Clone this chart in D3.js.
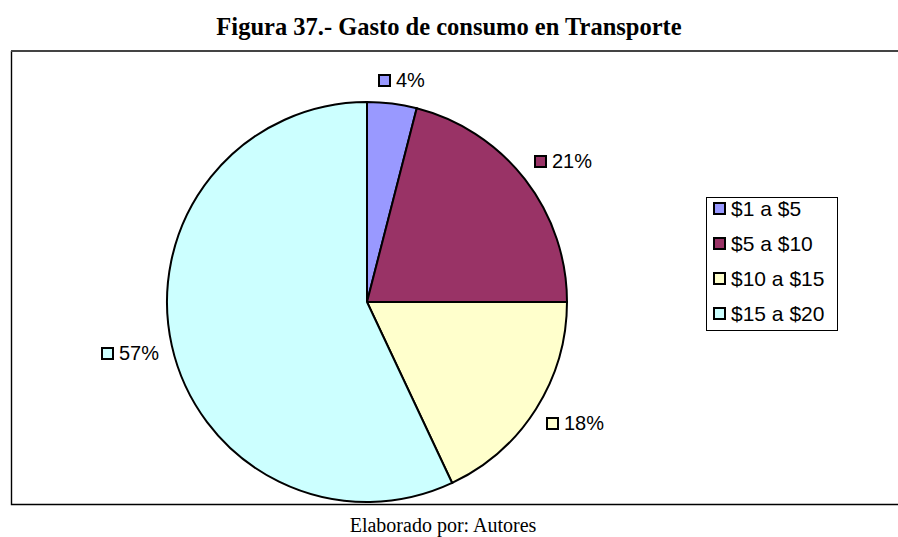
<!DOCTYPE html>
<html><head><meta charset="utf-8">
<script src="https://cdn.jsdelivr.net/npm/d3@7/dist/d3.min.js"></script>
<style>body{margin:0;background:#fff}svg{display:block}</style>
</head><body>
<script>
const categories = ["$1 a $5", "$5 a $10", "$10 a $15", "$15 a $20"];
const values = [4, 21, 18, 57];
const colors = ["#9999FF", "#993366", "#FFFFCC", "#CCFFFF"];
// label square top-left for each category, in category order
const labelPos = [[378, 74], [534, 155], [546, 417], [101, 347]];
const W = 898, H = 537;
const svg = d3.select("body").append("svg").attr("width", W).attr("height", H);

svg.append("text").attr("x", 449).attr("y", 35).attr("text-anchor", "middle")
  .style("font-family", "Liberation Serif, Times New Roman, serif").style("font-weight", "bold").style("font-size", "24.5px")
  .text("Figura 37.- Gasto de consumo en Transporte");

svg.append("path").attr("d", "M11.5,51 V504.5 H898").attr("fill", "none").attr("stroke", "#000").attr("stroke-width", 1.4);
svg.append("line").attr("x1", 11).attr("x2", 898).attr("y1", 51).attr("y2", 51).attr("stroke", "#444").attr("stroke-width", 2);

const cx = 367, cy = 302, r = 200;
const pie = d3.pie().sort(null).value(d => d)(values);
const arc = d3.arc().innerRadius(0).outerRadius(r);
const g = svg.append("g").attr("transform", `translate(${cx},${cy})`);
g.selectAll("path").data(pie).enter().append("path")
  .attr("d", arc).attr("fill", (d, i) => colors[i]).attr("stroke", "#000").attr("stroke-width", 2);

const lab = svg.append("g").style("font-family", "Liberation Sans, Arial, sans-serif").style("font-size", "20px");
values.forEach((v, i) => {
  const [x, y] = labelPos[i];
  lab.append("rect").attr("x", x + 1).attr("y", y + 1).attr("width", 11).attr("height", 11)
    .attr("fill", colors[i]).attr("stroke", "#000").attr("stroke-width", 2);
  lab.append("text").attr("x", x + 18).attr("y", y + 13).text(v + "%");
});

const leg = svg.append("g");
leg.append("rect").attr("x", 706.5).attr("y", 197.5).attr("width", 131).attr("height", 133)
  .attr("fill", "#fff").attr("stroke", "#000").attr("stroke-width", 1);
const ly = d3.scaleBand().domain(categories).range([191, 331]);
categories.forEach((c, i) => {
  const y = ly(c) + ly.bandwidth() / 2;
  leg.append("rect").attr("x", 714).attr("y", y - 5.5).attr("width", 11).attr("height", 11)
    .attr("fill", colors[i]).attr("stroke", "#000").attr("stroke-width", 2);
  leg.append("text").attr("x", 731).attr("y", y + 7.5)
    .style("font-family", "Liberation Sans, Arial, sans-serif").style("font-size", "21px").text(c);
});

svg.append("text").attr("x", 443).attr("y", 532).attr("text-anchor", "middle")
  .style("font-family", "Liberation Serif, Times New Roman, serif").style("font-size", "20px")
  .text("Elaborado por: Autores");
</script>
</body></html>
